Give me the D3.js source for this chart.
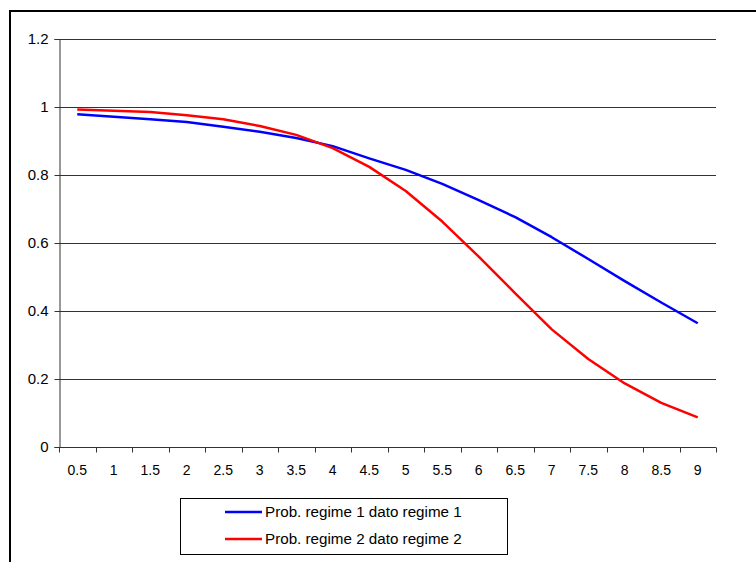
<!DOCTYPE html>
<html>
<head>
<meta charset="utf-8">
<script src="https://cdn.jsdelivr.net/npm/d3@7"></script>
<style>
  body { margin: 0; background: #fff; }
  svg { display: block; font-family: "Liberation Sans", Arial, sans-serif; }
</style>
</head>
<body>
<svg id="chart" width="756" height="562"></svg>
<script>
const categories = ['0.5', '1', '1.5', '2', '2.5', '3', '3.5', '4', '4.5', '5', '5.5', '6', '6.5', '7', '7.5', '8', '8.5', '9']
const regime1 = [0.979, 0.971, 0.964, 0.956, 0.942, 0.927, 0.909, 0.885, 0.849, 0.815, 0.774, 0.726, 0.676, 0.617, 0.553, 0.488, 0.425, 0.364]
const regime2 = [0.993, 0.989, 0.985, 0.976, 0.964, 0.944, 0.918, 0.879, 0.824, 0.753, 0.663, 0.560, 0.452, 0.346, 0.259, 0.187, 0.130, 0.087]
const yTicks = [0, 0.2, 0.4, 0.6, 0.8, 1, 1.2]
const seriesNames = ['Prob. regime 1 dato regime 1', 'Prob. regime 2 dato regime 2']
const seriesColors = ['#0000ff', '#ff0000']

const svg = d3.select('#chart')

// outer chart frame (only top and left edges show)
svg.append('rect')
  .attr('x', 10).attr('y', 11)
  .attr('width', 800).attr('height', 600)
  .attr('fill', 'none').attr('stroke', '#000').attr('stroke-width', 2)

const plot = { left: 59, right: 716, top: 39, bottom: 447 }

const x = d3.scaleBand()
  .domain(categories)
  .range([plot.left, plot.right])

const y = d3.scaleLinear()
  .domain([0, 1.2])
  .range([plot.bottom, plot.top])

// gridlines
svg.append('g')
  .selectAll('line')
  .data(yTicks.filter(d => d > 0))
  .join('line')
  .attr('x1', plot.left).attr('x2', plot.right)
  .attr('y1', d => Math.round(y(d)) + 0.5).attr('y2', d => Math.round(y(d)) + 0.5)
  .attr('stroke', '#333')

// y axis
const yAxis = svg.append('g')
  .attr('transform', `translate(${plot.left + 0.5},0)`)
  .call(d3.axisLeft(y).tickValues(yTicks).tickFormat(d => d3.format('')(d)).tickSize(5).tickPadding(6))
yAxis.select('.domain').attr('stroke', '#333')
yAxis.selectAll('.tick line').attr('stroke', '#333')
yAxis.selectAll('.tick').attr('transform', d => `translate(0,${Math.round(y(d)) + 0.5})`)
yAxis.selectAll('text').attr('font-size', 15).attr('fill', '#000')
  .attr('font-family', '"Liberation Sans", Arial, sans-serif')

// x axis: ticks on category boundaries
const xAxis = svg.append('g')
  .attr('transform', `translate(0,${plot.bottom + 0.5})`)
xAxis.append('line')
  .attr('x1', plot.left).attr('x2', plot.right)
  .attr('stroke', '#333')
xAxis.selectAll('line.tk')
  .data(categories.concat(['end']))
  .join('line')
  .attr('class', 'tk')
  .attr('x1', (d, i) => Math.round(plot.left + i * x.bandwidth()) + 0.5)
  .attr('x2', (d, i) => Math.round(plot.left + i * x.bandwidth()) + 0.5)
  .attr('y1', 0).attr('y2', 5)
  .attr('stroke', '#333')
xAxis.selectAll('text')
  .data(categories)
  .join('text')
  .attr('x', d => x(d) + x.bandwidth() / 2)
  .attr('y', 27.5)
  .attr('text-anchor', 'middle')
  .attr('font-size', 14)
  .text(d => d)

// lines
const line = d3.line()
  .x((d, i) => x(categories[i]) + x.bandwidth() / 2)
  .y(d => y(d))

;[regime1, regime2].forEach((vals, k) => {
  svg.append('path')
    .datum(vals)
    .attr('d', line)
    .attr('fill', 'none')
    .attr('stroke', seriesColors[k])
    .attr('stroke-width', 2.5)
    .attr('stroke-linejoin', 'round')
})

// legend
const legend = svg.append('g')
legend.append('rect')
  .attr('x', 180.5).attr('y', 498.5)
  .attr('width', 327).attr('height', 56)
  .attr('fill', '#fff').attr('stroke', '#000')
seriesNames.forEach((name, k) => {
  const ly = 512 + k * 27
  legend.append('line')
    .attr('x1', 225).attr('x2', 262)
    .attr('y1', ly).attr('y2', ly)
    .attr('stroke', seriesColors[k]).attr('stroke-width', 2.5)
  legend.append('text')
    .attr('x', 265).attr('y', ly + 5)
    .attr('font-size', 15.2)
    .text(name)
})
</script>
</body>
</html>
